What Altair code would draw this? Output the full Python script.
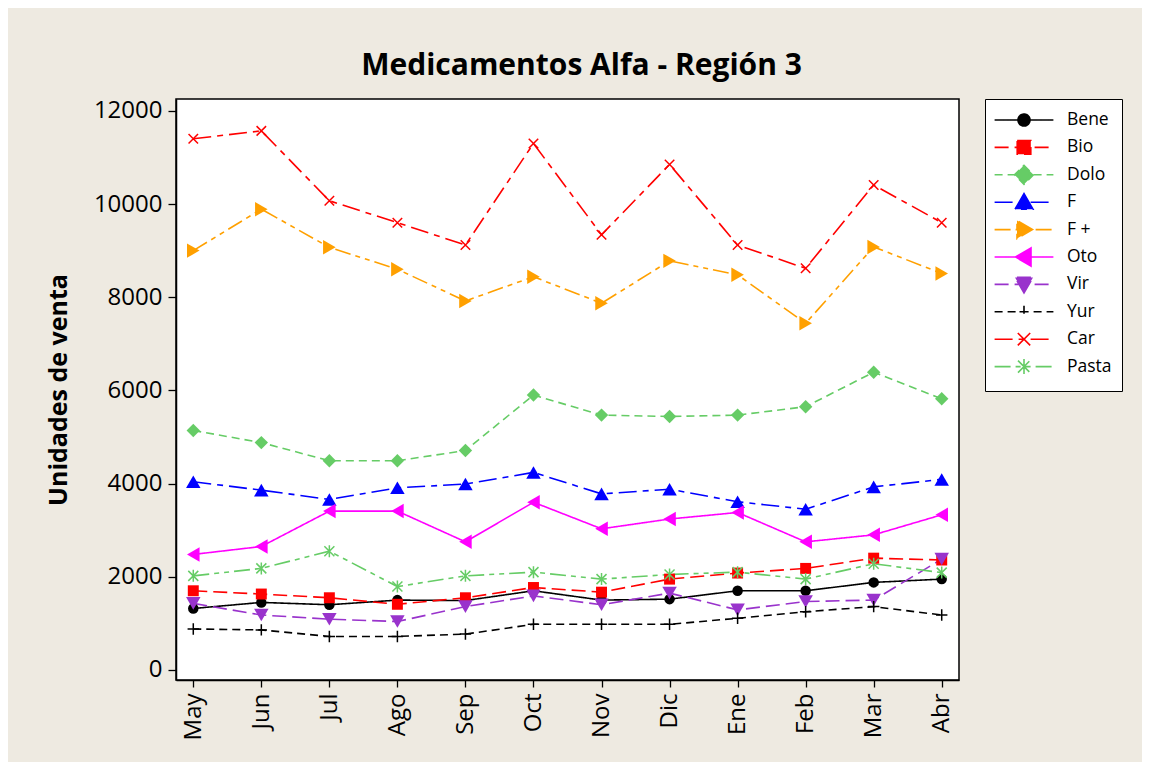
import altair as alt
import pandas as pd

meses = ["May", "Jun", "Jul", "Ago", "Sep", "Oct", "Nov", "Dic", "Ene", "Feb", "Mar", "Abr"]
series = ["Bene", "Bio", "Dolo", "F", "F +", "Oto", "Vir", "Yur", "Car", "Pasta"]

bene = [1320, 1450, 1400, 1500, 1490, 1700, 1500, 1520, 1700, 1700, 1880, 1950]
bio = [1700, 1630, 1550, 1410, 1550, 1770, 1670, 1950, 2080, 2180, 2400, 2360]
dolo = [5140, 4880, 4490, 4490, 4710, 5900, 5470, 5440, 5470, 5650, 6390, 5820]
f_ = [4040, 3860, 3660, 3910, 3990, 4240, 3780, 3880, 3610, 3450, 3930, 4090]
f_mas = [9000, 9890, 9070, 8600, 7920, 8440, 7870, 8780, 8480, 7440, 9080, 8510]
oto = [2480, 2650, 3410, 3410, 2750, 3600, 3030, 3240, 3380, 2750, 2900, 3330]
vir = [1430, 1180, 1090, 1040, 1360, 1590, 1400, 1650, 1290, 1470, 1500, 2380]
yur = [880, 860, 720, 720, 770, 980, 980, 980, 1110, 1250, 1360, 1180]
car = [11400, 11570, 10070, 9600, 9120, 11300, 9340, 10850, 9120, 8620, 10410, 9600]
pasta = [2020, 2180, 2550, 1790, 2020, 2100, 1950, 2050, 2100, 1950, 2280, 2090]
valores = [bene, bio, dolo, f_, f_mas, oto, vir, yur, car, pasta]

colores = ["#000000", "#FF0000", "#66CC66", "#0000FF", "#FFA000",
           "#FF00FF", "#9933CC", "#000000", "#FF0000", "#66CC66"]
guiones = [[1, 0], [14, 6], [8, 5], [18, 6, 6, 6], [16, 5, 5, 5, 5, 5],
           [1, 0], [14, 6], [8, 5], [18, 6, 6, 6], [16, 5, 5, 5, 5, 5]]

PLUS = "M-1,0H1M0,-1V1"
XMARK = "M-1,-1L1,1M-1,1L1,-1"
AST = "M-1,-1L1,1M-1,1L1,-1M0,-1.2V1.2"
marcadores = ["circle", "square", "diamond", "triangle-up", "triangle-right",
              "triangle-left", "triangle-down", PLUS, XMARK, AST]
rellenos = [True, True, True, True, True, True, True, False, False, False]
tamanos = [110, 120, 180, 210, 210, 210, 210, 130, 90, 100]

# legend glyph: horizontal line + marker; the zero-length strokes give every
# entry the same height so that the rows are evenly spaced
LINEA = "M0,-1.1L0,-1.1M0,1.1L0,1.1M-2.94,0H2.94"
leg_formas = [
    LINEA + "M-0.6,0A0.6,0.6 0 1,1 0.6,0A0.6,0.6 0 1,1 -0.6,0Z",
    LINEA + "M-0.68,-0.68H0.68V0.68H-0.68Z",
    LINEA + "M0,-0.95L0.95,0L0,0.95L-0.95,0Z",
    LINEA + "M0,-0.85L0.9,0.7L-0.9,0.7Z",
    LINEA + "M0.85,0L-0.7,-0.9L-0.7,0.9Z",
    LINEA + "M-0.85,0L0.7,-0.9L0.7,0.9Z",
    LINEA + "M0,0.85L0.9,-0.7L-0.9,-0.7Z",
    LINEA + "M-0.45,0H0.45M0,-0.6V0.6",
    LINEA + "M-0.62,-0.62L0.62,0.62M-0.62,0.62L0.62,-0.62",
    LINEA + "M-0.6,-0.6L0.6,0.6M-0.6,0.6L0.6,-0.6M0,-0.75V0.75",
]

rows = []
for nombre, vals in zip(series, valores):
    for m, v in zip(meses, vals):
        rows.append({"Mes": m, "Serie": nombre, "Ventas": v})
df = pd.DataFrame(rows)

FONT = "Open Sans"

x_enc = alt.X(
    "Mes:N",
    scale=alt.Scale(type="point", domain=meses, padding=0.254),
    axis=alt.Axis(title=None, labelAngle=270, labelFont=FONT, labelFontSize=24,
                  labelColor="black", labelPadding=6, tickSize=7, tickColor="black",
                  tickWidth=1.3, domainColor="black", domainWidth=1.5, grid=False),
)
y_enc = alt.Y(
    "Ventas:Q",
    scale=alt.Scale(domain=[-215, 12254], nice=False, zero=False),
    axis=alt.Axis(values=[0, 2000, 4000, 6000, 8000, 10000, 12000], format="d",
                  title="Unidades de venta", titleFont=FONT, titleFontSize=25,
                  titleFontWeight="bold", titleColor="black", titleAngle=270,
                  titleBaseline="alphabetic", titleAlign="center", titleX=-110, titleY=290.5,
                  labelFont=FONT, labelFontSize=24, labelColor="black", labelPadding=6,
                  tickSize=8, tickColor="black", tickWidth=1.3, domainColor="black",
                  domainWidth=1.5, grid=False),
)

capas_lineas = []
capas_puntos = []
for nombre, col, dash, forma, lleno, tam in zip(series, colores, guiones, marcadores, rellenos, tamanos):
    base = alt.Chart(df).transform_filter(alt.datum.Serie == nombre)
    capas_lineas.append(
        base.mark_line(color=col, strokeDash=dash, strokeWidth=1.6).encode(x=x_enc, y=y_enc)
    )
    capas_puntos.append(
        base.mark_point(shape=forma, size=tam, color=col, filled=lleno, opacity=1,
                        strokeWidth=1.5).encode(x=x_enc, y=y_enc)
    )

leg = alt.Legend(
    title=None, orient="none", legendX=809, legendY=0, direction="vertical",
    fillColor="white", strokeColor="black", padding=10, rowPadding=-2.6,
    symbolSize=400, symbolStrokeWidth=1.6,
    symbolStrokeColor={"expr": "scale('color', datum.value)"},
    symbolOffset=18, labelOffset=32, labelFont=FONT, labelFontSize=17.5,
    labelColor="black", labelLimit=200, symbolLimit=20,
)

leyenda = alt.Chart(df).transform_filter("datum.Ventas < -100000").mark_point(
    filled=True, opacity=1, strokeWidth=1.6
).encode(
    x=x_enc,
    y=y_enc,
    color=alt.Color("Serie:N", scale=alt.Scale(domain=series, range=colores), legend=leg),
    shape=alt.Shape("Serie:N", scale=alt.Scale(domain=series, range=leg_formas), legend=leg),
    strokeDash=alt.StrokeDash("Serie:N", scale=alt.Scale(domain=series, range=guiones), legend=leg),
)

titulo = alt.TitleParams(
    text="Medicamentos Alfa - Región 3", font=FONT, fontSize=30, fontWeight="bold",
    color="black", anchor="middle", frame="group", dx=14, offset=18,
)

chart = alt.layer(*capas_lineas, *capas_puntos, leyenda).properties(
    width=783, height=581, title=titulo,
    autosize=alt.AutoSizeParams(type="none"),
    padding={"left": 168, "top": 91, "right": 183, "bottom": 82},
    background="#EEEAE1",
).configure_view(stroke="black", strokeWidth=1.5, fill="white")

chart.save("out.html", embed_options={"renderer": "svg", "actions": False})
